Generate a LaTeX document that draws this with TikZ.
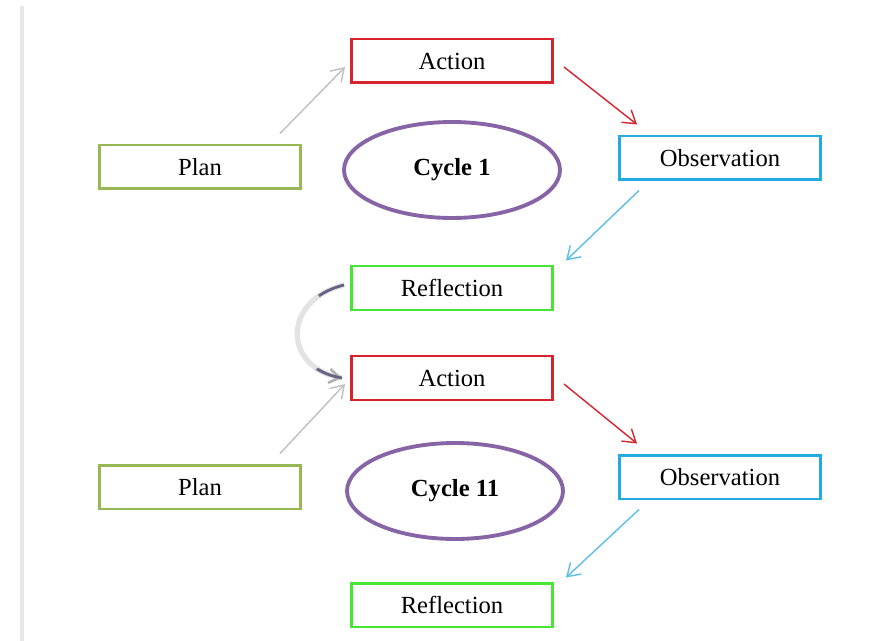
\documentclass[tikz,border=0pt]{standalone}
\usepackage{fontspec}
\setmainfont{Liberation Serif}
\usetikzlibrary{shapes.geometric,arrows.meta}
\definecolor{planc}{RGB}{150,185,85}
\definecolor{actc}{RGB}{215,35,45}
\definecolor{obsc}{RGB}{35,170,225}
\definecolor{reflc}{RGB}{70,230,50}
\definecolor{cycc}{RGB}{135,100,165}
\definecolor{curlc}{RGB}{100,98,130}

\tikzset{
  stage/.style={draw, fill=white, line width=1.7pt, minimum width=4.02cm,
    minimum height=0.88cm, font=\fontsize{14}{16}\selectfont},
  planbox/.style={stage, draw=planc},
  actbox/.style={stage, draw=actc},
  obsbox/.style={stage, draw=obsc},
  reflbox/.style={stage, draw=reflc},
  cycle/.style={ellipse, draw=cycc, line width=2.2pt, minimum width=4.32cm,
    minimum height=1.92cm, font=\fontsize{14}{16}\selectfont\bfseries},
  link/.style={line width=0.8pt, -{Straight Barb[length=7pt,width=9pt]}},
}

\begin{document}
\begin{tikzpicture}[x=0.02cm, y=-0.02cm]
  \useasboundingbox (0,0) rectangle (891,641);
  \draw[gray!18, line width=0.07cm] (22,6) -- (22,641);

  % first cycle
  \node[actbox]  (act1)  at (452,61)  {Action};
  \node[planbox] (plan1) at (200,167) {Plan};
  \node[obsbox]  (obs1)  at (720,158) {Observation};
  \node[reflbox] (refl1) at (452,288) {Reflection};
  \node[cycle]   (cyc1)  at (452,170) {Cycle 1};

  % second cycle
  \node[actbox]  (act2)  at (452,378) {Action};
  \node[planbox] (plan2) at (200,487) {Plan};
  \node[obsbox]  (obs2)  at (720,477) {Observation};
  \node[reflbox] (refl2) at (452,605) {Reflection};
  \node[cycle]   (cyc2)  at (455,491) {Cycle 11};

  \foreach \n in {1,2} {
    \draw[link, gray!50]
      ([xshift=-0.44cm, yshift=0.2cm]plan\n.north east) -- ([xshift=-0.1cm, yshift=-0.12cm]act\n.west);
    \draw[link, actc]
      ([xshift=0.2cm, yshift=-0.12cm]act\n.east) -- ([xshift=0.38cm, yshift=0.2cm]obs\n.north west);
    \draw[link, obsc!75]
      ([xshift=0.42cm, yshift=-0.18cm]obs\n.south west) -- ([xshift=0.24cm, yshift=0.08cm]refl\n.north east);
  }

  % link between the cycles (faded in the middle)
  \draw[gray!22, line width=3pt]
    ([xshift=-0.12cm, yshift=0.06cm]refl1.west) .. controls (282,300) and (282,368) .. ([xshift=-0.16cm]act2.west);
  \draw[line width=1.5pt, dash pattern=on 0.55cm off 1.75cm on 2cm,
        -{Straight Barb[length=6pt,width=8pt]}, gray!60]
    ([xshift=-0.12cm, yshift=0.06cm]refl1.west) .. controls (282,300) and (282,368) .. ([xshift=-0.16cm]act2.west);
  \draw[curlc, line width=1.5pt, dash pattern=on 0.55cm off 1.75cm on 0.55cm off 2cm]
    ([xshift=-0.12cm, yshift=0.06cm]refl1.west) .. controls (282,300) and (282,368) .. ([xshift=-0.16cm]act2.west);
\end{tikzpicture}
\end{document}
